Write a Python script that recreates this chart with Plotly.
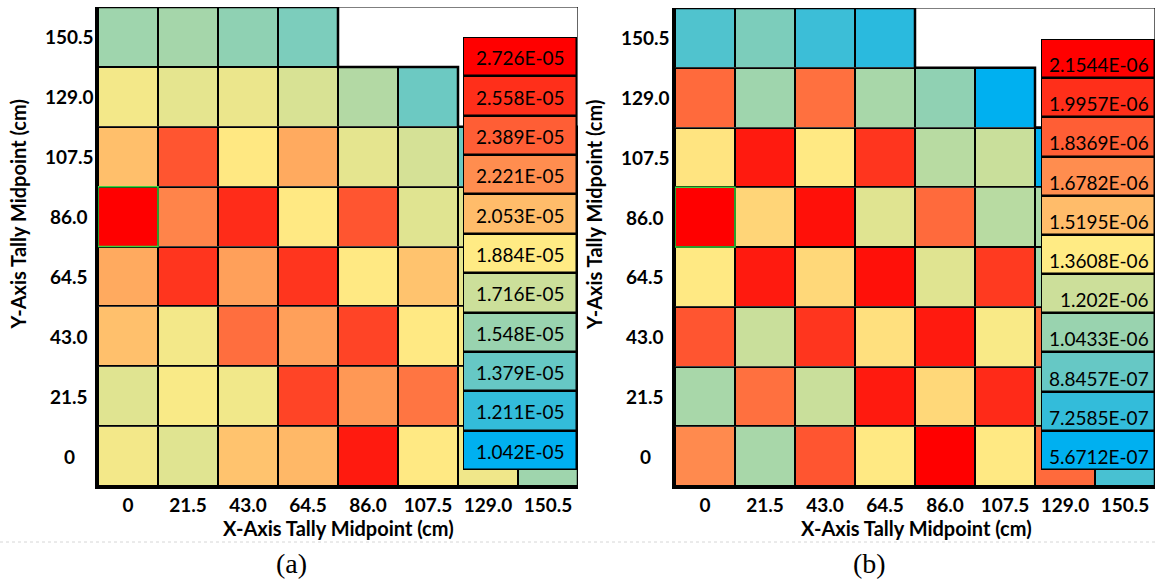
import plotly.graph_objects as go

W, H = 1156, 579

x_labels = ["0", "21.5", "43.0", "64.5", "86.0", "107.5", "129.0", "150.5"]
y_labels = ["0", "21.5", "43.0", "64.5", "86.0", "107.5", "129.0", "150.5"]

# Panel (a) values, rows listed from top (y=150.5) to bottom (y=0)
a_row_150_5 = [1.567e-5, 1.587e-5, 1.514e-5, 1.451e-5, None, None, None, None]
a_row_129_0 = [1.844e-5, 1.798e-5, 1.818e-5, 1.756e-5, 1.633e-5, 1.399e-5, None, None]
a_row_107_5 = [2.042e-5, 2.421e-5, 1.894e-5, 2.117e-5, 1.798e-5, 1.746e-5, 1.399e-5, 1.550e-5]
a_row_86_0 = [2.726e-5, 2.253e-5, 2.568e-5, 1.890e-5, 2.421e-5, 1.781e-5, 1.780e-5, 1.700e-5]
a_row_64_5 = [2.117e-5, 2.536e-5, 2.153e-5, 2.536e-5, 1.890e-5, 2.027e-5, 1.808e-5, 1.750e-5]
a_row_43_0 = [2.037e-5, 1.844e-5, 2.332e-5, 2.153e-5, 2.482e-5, 1.890e-5, 1.870e-5, 1.800e-5]
a_row_21_5 = [1.781e-5, 1.864e-5, 1.838e-5, 2.482e-5, 2.182e-5, 2.307e-5, 1.850e-5, 1.750e-5]
a_row_0 = [1.844e-5, 1.781e-5, 2.027e-5, 2.067e-5, 2.633e-5, 1.890e-5, 1.834e-5, 1.567e-5]

# Panel (b) values
b_row_150_5 = [0.817e-6, 0.953e-6, 0.754e-6, 0.698e-6, None, None, None, None]
b_row_129_0 = [1.796e-6, 1.062e-6, 1.777e-6, 1.090e-6, 1.015e-6, 0.567e-6, None, None]
b_row_107_5 = [1.385e-6, 2.067e-6, 1.369e-6, 1.975e-6, 1.140e-6, 1.193e-6, 0.570e-6, 0.750e-6]
b_row_86_0 = [2.154e-6, 1.435e-6, 2.100e-6, 1.264e-6, 1.796e-6, 1.140e-6, 1.100e-6, 0.900e-6]
b_row_64_5 = [1.369e-6, 2.067e-6, 1.424e-6, 2.100e-6, 1.264e-6, 1.959e-6, 1.080e-6, 0.950e-6]
b_row_43_0 = [1.867e-6, 1.193e-6, 1.975e-6, 1.398e-6, 2.067e-6, 1.342e-6, 1.796e-6, 1.200e-6]
b_row_21_5 = [1.090e-6, 1.777e-6, 1.193e-6, 2.067e-6, 1.424e-6, 2.013e-6, 1.090e-6, 1.000e-6]
b_row_0 = [1.688e-6, 1.090e-6, 1.867e-6, 1.369e-6, 2.154e-6, 1.369e-6, 1.796e-6, 0.791e-6]

a_legend_labels = ["2.726E-05", "2.558E-05", "2.389E-05", "2.221E-05", "2.053E-05", "1.884E-05",
                   "1.716E-05", "1.548E-05", "1.379E-05", "1.211E-05", "1.042E-05"]
b_legend_labels = ["2.1544E-06", "1.9957E-06", "1.8369E-06", "1.6782E-06", "1.5195E-06", "1.3608E-06",
                   "1.202E-06", "1.0433E-06", "8.8457E-07", "7.2585E-07", "5.6712E-07"]

colors = [[0.0, "#00b0f0"], [0.5, "#ffeb84"], [1.0, "#ff0000"]]

a_rows_top_down = [a_row_150_5, a_row_129_0, a_row_107_5, a_row_86_0, a_row_64_5, a_row_43_0, a_row_21_5, a_row_0]
b_rows_top_down = [b_row_150_5, b_row_129_0, b_row_107_5, b_row_86_0, b_row_64_5, b_row_43_0, b_row_21_5, b_row_0]

fig = go.Figure()
shapes = []
annotations = []

BOLD = dict(family="Lato", size=19, color="black", weight="bold")
TITLE = dict(family="Lato", size=20, color="black", weight="bold")


def px_x(v):
    return v / W


def px_y(v):
    return 1 - v / H


panels = [
    dict(rows=a_rows_top_down, labels=a_legend_labels, xa="x", ya="y", lxa="x3", lya="y3",
         dom_x=[px_x(98), px_x(578)], dom_y=[px_y(486), px_y(7)],
         leg_x=[px_x(463), px_x(577)], leg_y=[px_y(470), px_y(37)],
         ytick_x=px_x(69), ytitle_x=px_x(17.5), xtitle_x=px_x(338), cap_x=px_x(291), cap="(a)",
         leg_text_x=0.5, leg_anchor="center", leg_shift=-1),
    dict(rows=b_rows_top_down, labels=b_legend_labels, xa="x2", ya="y2", lxa="x4", lya="y4",
         dom_x=[px_x(675), px_x(1155)], dom_y=[px_y(486), px_y(8)],
         leg_x=[px_x(1041), px_x(1155)], leg_y=[px_y(470), px_y(39)],
         ytick_x=px_x(645), ytitle_x=px_x(594), xtitle_x=px_x(916), cap_x=px_x(869), cap="(b)",
         leg_text_x=0.965, leg_anchor="right", leg_shift=-6),
]

layout_axes = {}
for p in panels:
    rows_bu = list(reversed(p["rows"]))
    leg_vals = [float(s) for s in p["labels"]]
    zmin, zmax = min(leg_vals), max(leg_vals)
    n = len(x_labels)

    # black backing under valid cells -> visible as grid lines through the gaps
    for r, row in enumerate(rows_bu):
        nvalid = sum(1 for v in row if v is not None)
        shapes.append(dict(type="rect", xref=p["xa"], yref=p["ya"], x0=-0.5, x1=nvalid - 0.5,
                           y0=r - 0.5, y1=r + 0.5, fillcolor="black", line=dict(width=0), layer="below"))
    # thin frame of plot area
    shapes.append(dict(type="rect", xref=p["xa"], yref=p["ya"], x0=-0.5, x1=n - 0.5, y0=-0.5, y1=n - 0.5,
                       line=dict(color="black", width=1.2), layer="below"))

    fig.add_trace(go.Heatmap(z=rows_bu, x=list(range(n)), y=list(range(n)), colorscale=colors,
                             zmin=zmin, zmax=zmax, showscale=False, xgap=2, ygap=2,
                             xaxis=p["xa"], yaxis=p["ya"], hoverinfo="skip"))

    # staircase outline
    ox, oy = [-0.5], [n - 0.5]
    for i, row in enumerate(p["rows"]):
        r = n - 1 - i
        nvalid = sum(1 for v in row if v is not None)
        ox += [nvalid - 0.5, nvalid - 0.5]
        oy += [r + 0.5, r - 0.5]
    fig.add_trace(go.Scatter(x=ox, y=oy, mode="lines", line=dict(color="black", width=2.5),
                             xaxis=p["xa"], yaxis=p["ya"], showlegend=False, hoverinfo="skip"))

    # highlighted cell (max at 86.0 / 0)
    r86 = y_labels.index("86.0")
    shapes.append(dict(type="rect", xref=p["xa"], yref=p["ya"], x0=-0.5, x1=0.5, y0=r86 - 0.5, y1=r86 + 0.5,
                       line=dict(color="#3cd23c", width=1.5), layer="above"))

    # legend key
    leg_bu = list(reversed(leg_vals))
    nl = len(leg_bu)
    shapes.append(dict(type="rect", xref=p["lxa"], yref=p["lya"], x0=-0.5, x1=0.5, y0=-0.5, y1=nl - 0.5,
                       fillcolor="black", line=dict(color="black", width=2.5), layer="below"))
    fig.add_trace(go.Heatmap(z=[[v] for v in leg_bu], x=[0], y=list(range(nl)), colorscale=colors,
                             zmin=zmin, zmax=zmax, showscale=False, xgap=2.5, ygap=2.5,
                             xaxis=p["lxa"], yaxis=p["lya"], hoverinfo="skip"))
    for i, lab in enumerate(reversed(p["labels"])):
        annotations.append(dict(text=lab, xref=p["lxa"] + " domain", yref=p["lya"], x=p["leg_text_x"], y=i,
                                xanchor=p["leg_anchor"], yanchor="middle", yshift=p["leg_shift"], showarrow=False,
                                font=dict(family="Lato", size=19, color="black")))

    # y tick labels centered
    for i, lab in enumerate(y_labels):
        annotations.append(dict(text=lab, xref="paper", yref=p["ya"], x=p["ytick_x"], y=i, xanchor="center",
                                yanchor="middle", showarrow=False, font=BOLD))
    annotations.append(dict(text="Y-Axis Tally Midpoint (cm)", xref="paper", yref="paper", x=p["ytitle_x"],
                            y=px_y(215), textangle=-90, xanchor="center", yanchor="middle", showarrow=False,
                            font=TITLE))
    annotations.append(dict(text="X-Axis Tally Midpoint (cm)", xref="paper", yref="paper", x=p["xtitle_x"],
                            y=px_y(528), xanchor="center", yanchor="middle", showarrow=False,
                            font=TITLE))
    annotations.append(dict(text=p["cap"], xref="paper", yref="paper", x=p["cap_x"], y=px_y(563),
                            xanchor="center", yanchor="middle", showarrow=False,
                            font=dict(family="Liberation Serif", size=28, color="black")))

    xname = "xaxis" + p["xa"][1:]
    yname = "yaxis" + p["ya"][1:]
    layout_axes[xname] = dict(domain=p["dom_x"], range=[-0.5, n - 0.5], anchor=p["ya"], showgrid=False,
                              zeroline=False, showline=True, linewidth=3, linecolor="black", ticks="",
                              tickvals=list(range(n)), ticktext=x_labels, tickfont=BOLD, fixedrange=True)
    layout_axes[yname] = dict(domain=p["dom_y"], range=[-0.5, n - 0.5], anchor=p["xa"], showgrid=False,
                              zeroline=False, showline=True, linewidth=3, linecolor="black", ticks="",
                              showticklabels=False, fixedrange=True)
    lx = "xaxis" + p["lxa"][1:]
    ly = "yaxis" + p["lya"][1:]
    layout_axes[lx] = dict(domain=p["leg_x"], range=[-0.5, 0.5], anchor=p["lya"], visible=False, fixedrange=True)
    layout_axes[ly] = dict(domain=p["leg_y"], range=[-0.5, nl - 0.5], anchor=p["lxa"], visible=False,
                           fixedrange=True)

# faint dotted separator line
shapes.append(dict(type="line", xref="paper", yref="paper", x0=0, x1=1, y0=px_y(542), y1=px_y(542),
                   line=dict(color="#d6d6d6", width=1, dash="dot")))

fig.update_layout(width=W, height=H, margin=dict(l=0, r=0, t=0, b=0), paper_bgcolor="white",
                  plot_bgcolor="white", showlegend=False, shapes=shapes, annotations=annotations,
                  **layout_axes)

fig.write_html("out.html")
